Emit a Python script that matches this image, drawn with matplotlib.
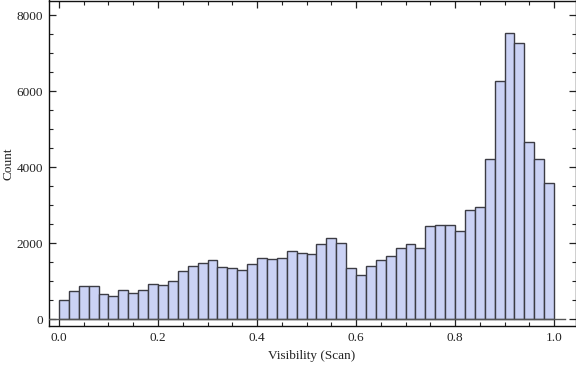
import numpy as np
import matplotlib
matplotlib.use("Agg")
import matplotlib.pyplot as plt
from matplotlib.ticker import MultipleLocator, FormatStrFormatter


BIN_START = 0.0
BIN_WIDTH = 0.02
COUNTS = [
    492, 728, 860, 860, 649, 597, 754, 675, 754, 912,
    886, 991, 1254, 1386, 1465, 1544, 1360, 1333, 1281, 1439,
    1596, 1570, 1596, 1781, 1728, 1702, 1965, 2123, 1991, 1342,
    1149, 1386, 1552, 1649, 1860, 1965, 1860, 2439, 2465, 2465,
    2307, 2860, 2939, 4202, 6263, 7518, 7254, 4649, 4202, 3570,
]
X_LABEL = "Visibility (Scan)"
Y_LABEL = "Count"

W, H = 576, 366
DPI = 100

plt.rcParams["font.family"] = ["Liberation Serif", "DejaVu Serif"]
plt.rcParams["font.size"] = 9.5

fig = plt.figure(figsize=(W / DPI, H / DPI), dpi=DPI)
# axes box in pixel coordinates of the reference
left, right, top, bottom = 48.5, 575.5, 0.5, 326.0
ax = fig.add_axes([left / W, 1 - bottom / H, (right - left) / W, (bottom - top) / H])

counts = np.asarray(COUNTS, dtype=float)
edges = BIN_START + BIN_WIDTH * np.arange(len(counts))

ax.bar(edges, counts, width=BIN_WIDTH, align="edge",
       color="#cbd2f5", edgecolor="#3c3c44", linewidth=1.0, zorder=2)

ax.set_xlim(-0.0212, 1.0434)
ax.set_ylim(-184, 8382)
ax.plot([-0.0212, 1.022], [0, 0], color="#555555", linewidth=1.0, zorder=3)

ax.xaxis.set_major_locator(MultipleLocator(0.2))
ax.xaxis.set_minor_locator(MultipleLocator(0.05))
ax.xaxis.set_major_formatter(FormatStrFormatter("%.1f"))
ax.yaxis.set_major_locator(MultipleLocator(2000))
ax.yaxis.set_minor_locator(MultipleLocator(500))

ax.tick_params(which="both", direction="in", top=True, right=True,
               colors="#222222", labelcolor="#222222")
ax.tick_params(which="major", length=5, width=0.9, pad=4)
ax.tick_params(which="minor", length=3, width=0.8)
for s in ax.spines.values():
    s.set_linewidth(1.0)
    s.set_color("#111111")

ax.set_xlabel(X_LABEL, labelpad=5, color="#222222")
ax.set_ylabel(Y_LABEL, color="#222222")
ax.yaxis.set_label_coords((15 - left) / (right - left), 0.5)

fig.savefig("out.png", dpi=DPI)
